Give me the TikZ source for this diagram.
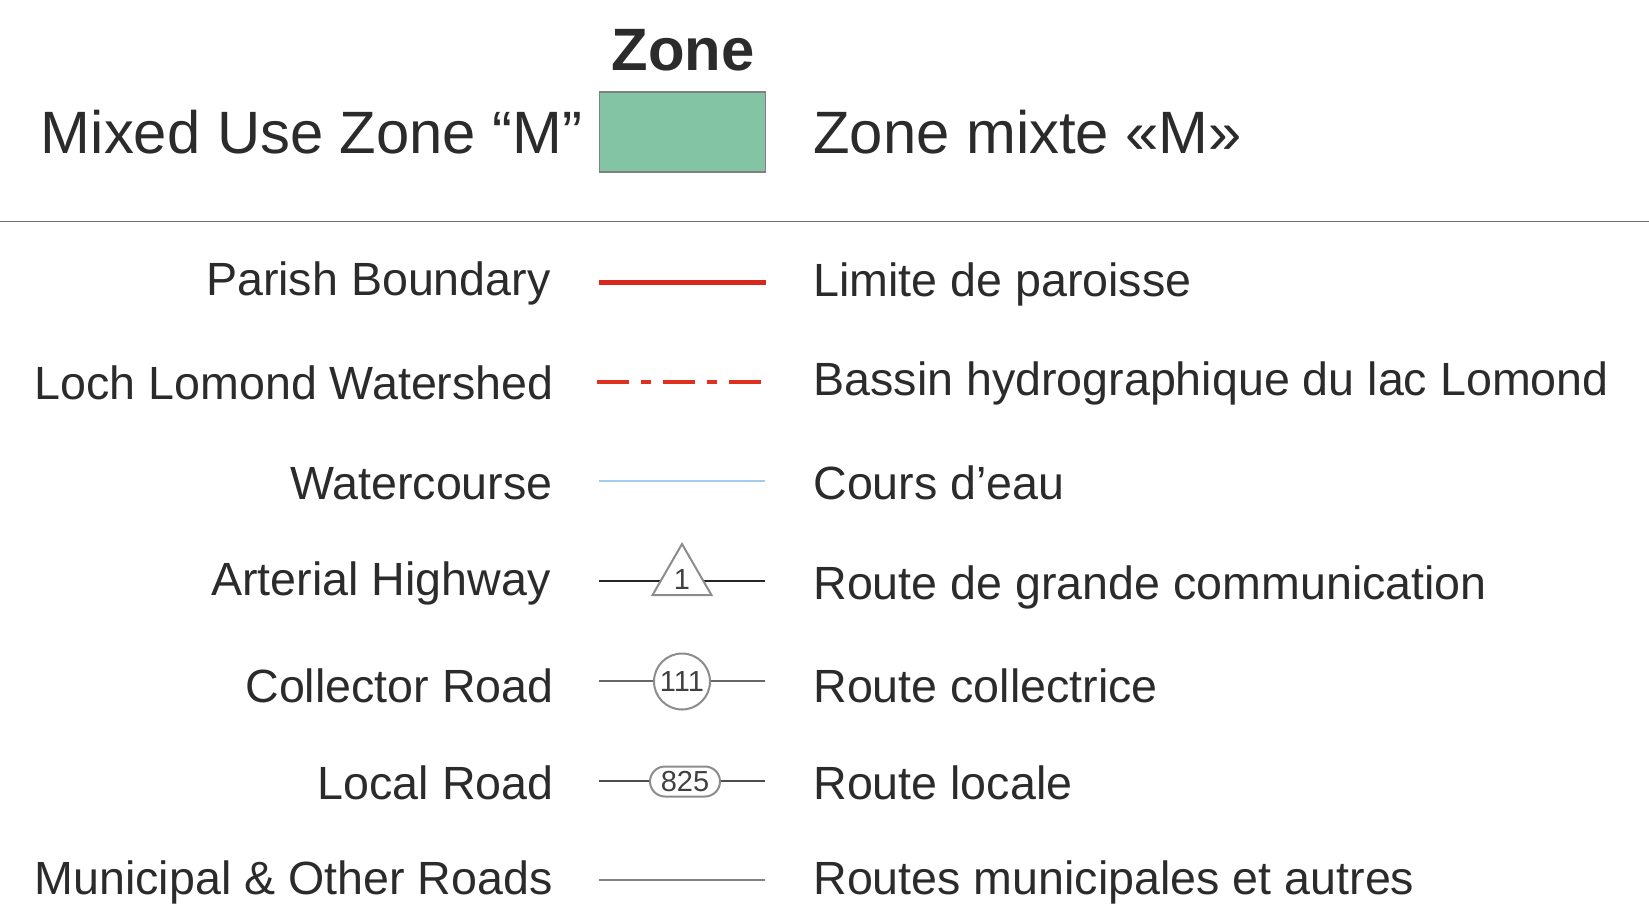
\documentclass[tikz,border=0pt]{standalone}
\usepackage{fontspec}
\setmainfont{Liberation Sans}
\usetikzlibrary{shapes.geometric,shapes.misc}
\definecolor{tx}{HTML}{2B2B2B}
\definecolor{zonegreen}{HTML}{82C4A4}
\tikzset{x=0.5pt,y=-0.5pt,
 lab/.style={font=\fontsize{23.3pt}{28pt}\selectfont,text=tx,inner sep=0pt},
 labl/.style={lab,anchor=base east},
 labr/.style={lab,anchor=base west},
 big/.style={font=\fontsize{29.9pt}{32pt}\selectfont,text=tx,inner sep=0pt},
 road/.style={draw=black!75,line width=1pt},
 sign/.style={font=\fontsize{14.5pt}{16pt}\selectfont,text=black!75,inner sep=0pt,draw=black!45,fill=white,line width=1pt}}
\begin{document}
\begin{tikzpicture}
\useasboundingbox (0,0) rectangle (1649,911);
\node[big,font=\bfseries\fontsize{29.9pt}{32pt}\selectfont,anchor=base] (zt) at (683,70) {Zone};
\node[big,anchor=base east] (m1) at (583,153) {Mixed Use Zone “M”};
\node[draw=black!50,fill=zonegreen,line width=0.7pt,minimum width=83pt,minimum height=40pt,inner sep=0pt] (zb) at (682.5,132) {};
\node[big,anchor=base west] (m2) at (813,153) {Zone mixte «M»};
\coordinate (ra) at (0,221.5); \coordinate (rb) at (1649,221.5);
\draw[black!55,line width=0.7pt] (ra) -- (rb);
\node[labl] (a1) at (551,295) {Parish Boundary};
\node[labr] (b1) at (813,296) {Limite de paroisse};
\coordinate (c1a) at (599,282); \coordinate (c1b) at (766,282);
\draw[draw={rgb,255:red,215;green,40;blue,30},line width=2.5pt] (c1a) -- (c1b);
\node[labl] (a2) at (554,399) {Loch Lomond Watershed};
\node[labr] (b2) at (813,395) {Bassin hydrographique du lac Lomond};
\coordinate (c2a) at (597,382); \coordinate (c2b) at (763,382);
\draw[draw={rgb,255:red,222;green,50;blue,30},line width=2.4pt,dash pattern=on 16pt off 6pt on 5pt off 6pt] (c2a) -- (c2b);
\node[labl] (a3) at (553,499) {Watercourse};
\node[labr] (b3) at (813,499) {Cours d’eau};
\coordinate (c3a) at (599,481); \coordinate (c3b) at (765,481);
\draw[draw={rgb,255:red,165;green,205;blue,235},line width=1.2pt] (c3a) -- (c3b);
\node[labl] (a4) at (551,595) {Arterial Highway};
\node[labr] (b4) at (813,599) {Route de grande communication};
\coordinate (c4a) at (599,581); \coordinate (c4b) at (765,581);
\draw[road,draw=black!85,line width=1.3pt] (c4a) -- (c4b);
\node[regular polygon,regular polygon sides=3,sign,minimum size=34pt] (s4) at (682,578) {};
\node[font=\fontsize{14.5pt}{16pt}\selectfont,text=black!75,inner sep=0pt] (s4t) at (682,580) {1};
\node[labl] (a5) at (554,702) {Collector Road};
\node[labr] (b5) at (813,702) {Route collectrice};
\coordinate (c5a) at (599,681); \coordinate (c5b) at (765,681);
\draw[road,draw=black!60] (c5a) -- (c5b);
\node[circle,sign,minimum size=28pt] (s5) at (682,681.5) {111};
\node[labl] (a6) at (554,799) {Local Road};
\node[labr] (b6) at (813,799) {Route locale};
\coordinate (c6a) at (599,781); \coordinate (c6b) at (765,781);
\draw[road,draw=black!70] (c6a) -- (c6b);
\node[rounded rectangle,sign,minimum width=35pt,minimum height=15pt] (s6) at (685,781.5) {825};
\node[labl] (a7) at (553,894) {Municipal \& Other Roads};
\node[labr] (b7) at (813,894) {Routes municipales et autres};
\coordinate (c7a) at (599,880); \coordinate (c7b) at (765,880);
\draw[draw=black!50,line width=1pt] (c7a) -- (c7b);
\end{tikzpicture}
\end{document}
